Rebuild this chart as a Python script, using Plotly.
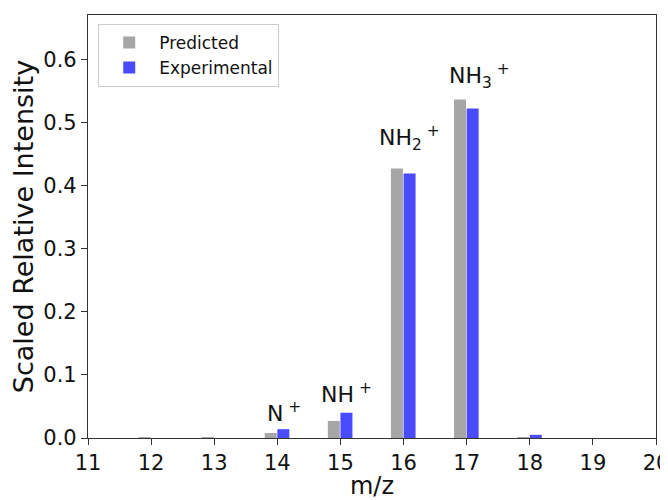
import plotly.graph_objects as go

mz = [12, 13, 14, 15, 16, 17, 18]
predicted = [0.001, 0.001, 0.008, 0.027, 0.427, 0.536, 0.001]
experimental = [0.0, 0.0, 0.014, 0.040, 0.419, 0.522, 0.005]

ion_labels = ["N<sup> +</sup>", "NH<sup> +</sup>", "NH<sub>2</sub><sup> +</sup>", "NH<sub>3</sub><sup> +</sup>"]
ion_x = [14.1, 15.1, 16.1, 17.2]
ion_y = [0.041, 0.071, 0.475, 0.573]

x_ticks = list(range(11, 21))
y_ticks = [0.0, 0.1, 0.2, 0.3, 0.4, 0.5, 0.6]

fig = go.Figure()
fig.add_trace(go.Bar(x=mz, y=predicted, name="Predicted", marker_color="#a6a6a6",
                     width=0.19, offset=-0.2, marker_line_width=0))
fig.add_trace(go.Bar(x=mz, y=experimental, name="Experimental", marker_color="#4a4aff",
                     width=0.19, offset=0.0, marker_line_width=0))

for t, x, y in zip(ion_labels, ion_x, ion_y):
    fig.add_annotation(x=x, y=y, text=t, showarrow=False, font=dict(size=22, color="#111111"),
                       xref="x", yref="y")

axis_common = dict(showline=True, linecolor="#333333", linewidth=1.2, mirror=True,
                   ticks="outside", ticklen=6, tickcolor="#333333", showgrid=False,
                   zeroline=False, tickfont=dict(size=21, color="#111111"), automargin=False)

fig.update_layout(
    width=660, height=492,
    margin=dict(l=80, r=12, t=7, b=62),
    paper_bgcolor="white", plot_bgcolor="white",
    font=dict(family="DejaVu Sans", color="#111111"),
    barmode="overlay",
    showlegend=True,
    legend=dict(x=0.018, y=0.979, xanchor="left", yanchor="top",
                bgcolor="rgba(255,255,255,0.9)", bordercolor="#cccccc", borderwidth=1,
                font=dict(size=17), itemwidth=50),
    xaxis=dict(range=[11, 20], tickvals=x_ticks, ticklabeloverflow="allow",
               title=dict(text="m/z", font=dict(size=24), standoff=7), **axis_common),
    yaxis=dict(range=[0, 0.67], tickvals=y_ticks, tickformat=".1f",
               title=dict(text="Scaled Relative Intensity", font=dict(size=27), standoff=5), **axis_common),
)

fig.write_html("out.html")
